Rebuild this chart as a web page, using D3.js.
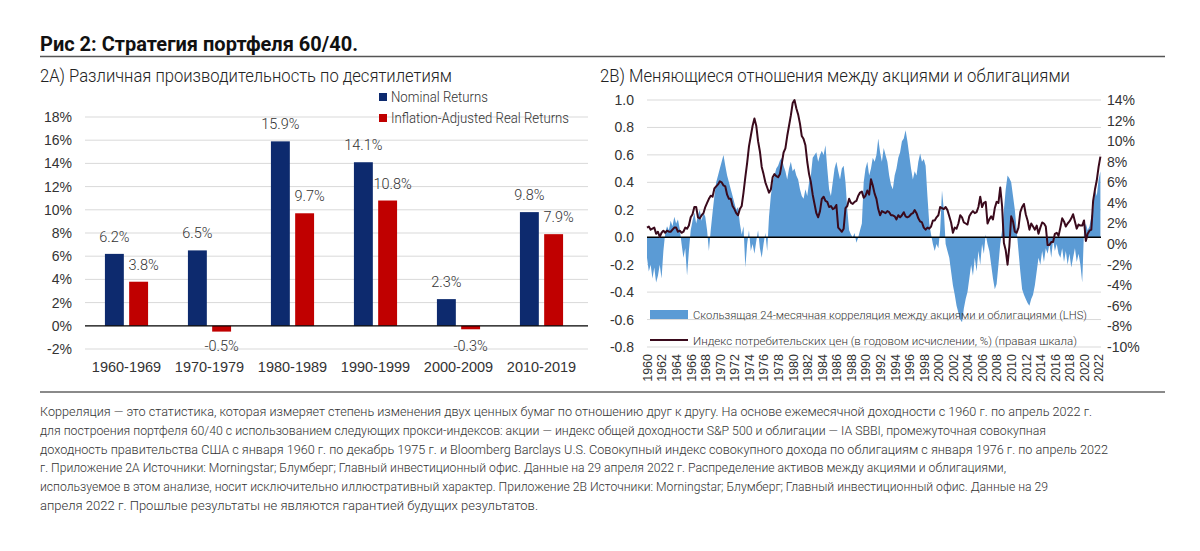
<!doctype html>
<html lang="ru">
<head>
<meta charset="UTF-8">
<title>Рис 2: Стратегия портфеля 60/40</title>
<style>
    body { margin: 0; background: #fff; }
    svg { display: block; font-family: Roboto, "Open Sans", sans-serif; }
    .tick text { fill: #333; }
</style>
</head>
<body>
<svg id="chart" width="1200" height="551"></svg>
<script src="https://d3js.org/d3.v7.min.js"></script>
<script>
// ---- 2A: доходность по десятилетиям ----
const decades = ["1960-1969", "1970-1979", "1980-1989", "1990-1999", "2000-2009", "2010-2019"];
const nominalReturns = [6.2, 6.5, 15.9, 14.1, 2.3, 9.8];
const realReturns = [3.8, -0.5, 9.7, 10.8, -0.3, 7.9];
const barTicks = [-2, 0, 2, 4, 6, 8, 10, 12, 14, 16, 18];
const barSeries = ["Nominal Returns", "Inflation-Adjusted Real Returns"];

// ---- 2B: корреляция и инфляция, поквартально с 1960 по 2022 ----
const seriesStart = 1960;
const correlation = [
    -0.15, -0.25, -0.2, -0.3,   -0.22, -0.33, -0.28, -0.2,   -0.3, -0.1, 0.03, 0.08,
    0.05, 0.12, 0.08, 0.15,     0.1, 0.13, 0.06, -0.05,      -0.15, -0.08, -0.28, -0.1,
    0.05, 0.12, 0.18, 0.1,      0.16, 0.2, 0.12, 0.18,       0.15, 0.05, -0.1, 0.05,
    0.18, 0.3, 0.4, 0.45,       0.5, 0.55, 0.6, 0.52,        0.45, 0.4, 0.35, 0.3,
    0.25, 0.2, 0.22, 0.1,       0.02, 0.08, -0.22, -0.05,    0.05, -0.1, -0.05, -0.12,
    -0.03, 0.05, -0.08, -0.15,  -0.05, 0.03, -0.1, 0.15,     0.3, 0.4, 0.45, 0.5,
    0.52, 0.56, 0.58, 0.52,     0.48, 0.42, 0.5, 0.55,       0.48, 0.5, 0.45, 0.42,
    0.35, 0.3, 0.28, 0.35,      0.3, 0.4, 0.45, 0.58,        0.6, 0.62, 0.55, 0.6,
    0.63, 0.6, 0.67, 0.5,       0.35, 0.3, 0.4, 0.5,         0.55, 0.48, 0.42, 0.5,
    0.52, 0.4, 0.2, 0.05,       0.02, 0.0, 0.03, -0.04,      0.0, 0.05, 0.1, 0.4,
    0.5, 0.55, 0.45, 0.5,       0.58, 0.55, 0.6, 0.72,       0.62, 0.55, 0.65, 0.6,
    0.55, 0.45, 0.38, 0.35,     0.45, 0.5, 0.58, 0.62,       0.7, 0.72, 0.78, 0.7,
    0.6, 0.5, 0.42, 0.48,       0.45, 0.55, 0.61, 0.55,      0.57, 0.52, 0.3, 0.1,
    0.02, -0.05, -0.1, -0.05,   -0.08, 0.05, 0.34, 0.2,      -0.05, -0.1, -0.15, -0.25,
    -0.35, -0.42, -0.5, -0.55,  -0.6, -0.62, -0.52, -0.45,   -0.4, -0.3, -0.2, -0.28,
    -0.15, -0.25, -0.1, -0.2,   -0.05, -0.12, 0.02, -0.05,   -0.1, -0.2, -0.3, -0.38,
    -0.34, -0.2, -0.05, 0.05,   0.2, 0.35, 0.45, 0.43,       0.4, 0.3, 0.2, 0.05,
    -0.1, -0.25, -0.38, -0.42,  -0.45, -0.48, -0.5, -0.45,   -0.42, -0.35, -0.25, -0.15,
    -0.2, -0.1, -0.18, -0.08,   -0.12, -0.05, -0.15, -0.02,  -0.1, -0.05, -0.12, -0.15,
    -0.08, -0.18, -0.1, -0.2,   -0.12, -0.22, -0.15, -0.08,  -0.18, -0.12, -0.2, -0.33,
    0.05, 0.1, 0.05, 0.08,      0.15, 0.2, 0.35, 0.3,        0.42, 0.48
];
const cpi = [
    1.6, 1.7, 1.4, 1.5,    1.6, 1.0, 1.2, 0.7,    1.1, 1.3, 1.1, 1.3,    1.2, 1.2, 1.4, 1.6,
    1.6, 1.2, 1.3, 1.1,    1.2, 1.6, 1.5, 1.8,    2.6, 2.9, 3.6, 3.6,    2.6, 2.5, 2.8, 3.0,
    3.6, 4.0, 4.4, 4.7,    4.6, 5.4, 5.6, 5.8,    6.1, 6.0, 5.7, 5.6,    4.8, 4.4, 4.4, 3.7,
    3.4, 3.0, 2.8, 3.4,    3.7, 5.0, 6.5, 7.9,    9.5, 10.5, 11.5, 12.2, 11.5, 10.0, 9.0, 7.5,
    6.8, 6.0, 5.5, 5.0,    5.3, 6.5, 6.8, 6.6,    6.5, 6.8, 7.8, 8.9,    9.3, 10.5, 11.5, 12.5,
    13.7, 14.0, 13.2, 12.6, 11.7, 10.5, 10.2, 9.6, 8.0, 6.8, 6.0, 4.8,   3.9, 3.0, 2.6, 3.2,
    4.4, 4.6, 4.2, 4.1,    3.6, 3.7, 3.4, 3.5,    3.8, 1.6, 1.4, 1.2,    1.5, 3.5, 3.7, 4.4,
    4.0, 3.9, 4.1, 4.2,    4.7, 5.0, 5.1, 4.5,    4.7, 5.2, 4.8, 6.3,    5.7, 4.9, 4.4, 3.4,
    2.8, 3.2, 3.1, 3.0,    3.2, 3.1, 2.8, 2.8,    2.7, 2.4, 2.8, 2.6,    2.8, 3.1, 2.7, 2.6,
    2.7, 2.9, 3.0, 3.3,    3.0, 2.5, 2.2, 2.1,    1.6, 1.4, 1.6, 1.5,    1.7, 2.3, 2.3, 2.6,
    2.8, 3.6, 3.5, 3.4,    3.6, 3.3, 2.7, 2.1,    1.1, 1.6, 1.5, 2.0,    2.8, 2.6, 2.1, 2.0,
    1.9, 2.7, 3.0, 3.2,    3.0, 3.1, 3.6, 4.6,    3.6, 4.0, 4.1, 2.0,    2.4, 2.7, 2.4, 3.5,
    4.1, 4.0, 5.5, 3.7,    0.1, -0.6, -2.0, -0.2, 2.7, 2.2, 1.2, 1.1,    1.6, 3.1, 3.6, 3.9,
    2.9, 2.3, 1.4, 2.0,    1.7, 1.4, 1.8, 1.0,    1.6, 2.1, 2.0, 1.7,    -0.1, -0.1, 0.2, 0.2,
    1.0, 1.1, 0.8, 1.6,    2.5, 2.2, 1.7, 2.0,    2.2, 2.5, 2.9, 2.2,    1.5, 1.9, 1.8, 1.8,
    2.3, 0.3, 1.0, 1.3,    1.4, 4.2, 5.3, 6.2,    7.5, 8.5
];
const corrTicks = [-0.8, -0.6, -0.4, -0.2, 0, 0.2, 0.4, 0.6, 0.8, 1.0];
const cpiTicks = [-10, -8, -6, -4, -2, 0, 2, 4, 6, 8, 10, 12, 14];
const yearTicks = d3.range(1960, 2023, 2);

const footnote = [
    "Корреляция — это статистика, которая измеряет степень изменения двух ценных бумаг по отношению друг к другу. На основе ежемесячной доходности с 1960 г. по апрель 2022 г.",
    "для построения портфеля 60/40 с использованием следующих прокси-индексов: акции — индекс общей доходности S&P 500 и облигации — IA SBBI, промежуточная совокупная",
    "доходность правительства США с января 1960 г. по декабрь 1975 г. и Bloomberg Barclays U.S. Совокупный индекс совокупного дохода по облигациям с января 1976 г. по апрель 2022",
    "г. Приложение 2А Источники: Morningstar; Блумберг; Главный инвестиционный офис. Данные на 29 апреля 2022 г. Распределение активов между акциями и облигациями,",
    "используемое в этом анализе, носит исключительно иллюстративный характер. Приложение 2В Источники: Morningstar; Блумберг; Главный инвестиционный офис. Данные на 29",
    "апреля 2022 г. Прошлые результаты не являются гарантией будущих результатов."
];
const footnoteWidths = [1052, 1006, 1068, 966, 1008, 498];

const NAVY = "#0d2a6e", RED = "#c00000", BLUE = "#5b9bd5", WINE = "#3a0a1c", GRID = "#d9d9d9";

const svg = d3.select("#chart");
svg.append("rect").attr("width", 1200).attr("height", 551).attr("fill", "#fff");

// заголовок
svg.append("text").attr("x", 40).attr("y", 51)
    .attr("font-size", 21).attr("font-weight", 700).attr("fill", "#111")
    .attr("textLength", 318).attr("lengthAdjust", "spacingAndGlyphs")
    .text("Рис 2: Стратегия портфеля 60/40.");
svg.append("line").attr("x1", 40).attr("x2", 1165).attr("y1", 56.5).attr("y2", 56.5)
    .attr("stroke", "#555").attr("stroke-width", 1.5);

svg.append("text").attr("x", 40).attr("y", 82).attr("font-size", 17.5).attr("font-weight", 300)
    .attr("fill", "#222").attr("textLength", 412).attr("lengthAdjust", "spacingAndGlyphs")
    .text("2A) Различная производительность по десятилетиям");
svg.append("text").attr("x", 600).attr("y", 82).attr("font-size", 17.5).attr("font-weight", 300)
    .attr("fill", "#222").attr("textLength", 470).attr("lengthAdjust", "spacingAndGlyphs")
    .text("2B) Меняющиеся отношения между акциями и облигациями");

// ===== левая диаграмма =====
const yBar = d3.scaleLinear().domain([-2, 18]).range([349, 117]);
const x0 = d3.scaleBand().domain(decades).range([85, 583]).paddingInner(0.48).paddingOuter(0.24);
const x1 = d3.scaleBand().domain(barSeries).range([0, x0.bandwidth()]).paddingInner(0.22);

const left = svg.append("g");
left.append("g").selectAll("line").data(barTicks.filter(d => d !== 0)).join("line")
    .attr("x1", 85).attr("x2", 588)
    .attr("y1", d => yBar(d)).attr("y2", d => yBar(d))
    .attr("stroke", GRID).attr("stroke-width", 1);

const yAxisA = left.append("g").attr("transform", "translate(85,0)")
    .call(d3.axisLeft(yBar).tickValues(barTicks).tickFormat(d => d + "%").tickSize(0).tickPadding(13));
yAxisA.select(".domain").remove();
yAxisA.selectAll("text").attr("font-size", 14).attr("font-weight", 300);

const xAxisA = left.append("g").attr("transform", "translate(0,359)")
    .call(d3.axisBottom(x0).tickSize(0).tickPadding(3));
xAxisA.select(".domain").remove();
xAxisA.selectAll("text").attr("font-size", 14.5).attr("font-weight", 300);

const rows = decades.map((d, i) => ({ decade: d, values: [
    { key: barSeries[0], v: nominalReturns[i], color: NAVY, shift: 0 },
    { key: barSeries[1], v: realReturns[i], color: RED, shift: 5 }
]}));

const groups = left.append("g").selectAll("g").data(rows).join("g")
    .attr("transform", d => `translate(${x0(d.decade)},0)`);
groups.selectAll("rect").data(d => d.values).join("rect")
    .attr("x", d => x1(d.key))
    .attr("width", x1.bandwidth())
    .attr("y", d => yBar(Math.max(d.v, 0)))
    .attr("height", d => Math.abs(yBar(d.v) - yBar(0)))
    .attr("fill", d => d.color);
groups.selectAll("text").data(d => d.values).join("text")
    .attr("x", d => x1(d.key) + x1.bandwidth() / 2 + (d.v > 0 ? d.shift : 0))
    .attr("y", d => d.v >= 0 ? yBar(d.v) - 12 : yBar(0) + 25)
    .attr("text-anchor", "middle").attr("font-size", 14.5).attr("font-weight", 300).attr("fill", "#333")
    .text(d => d.v.toFixed(1) + "%");

left.append("line").attr("x1", 85).attr("x2", 588).attr("y1", yBar(0)).attr("y2", yBar(0))
    .attr("stroke", "#000").attr("stroke-width", 1.3);

// легенда
const legWidths = [97, 178];
const legA = left.append("g");
barSeries.forEach((s, i) => {
    legA.append("rect").attr("x", 379).attr("y", 93 + i * 21).attr("width", 8).attr("height", 8)
        .attr("fill", i === 0 ? NAVY : RED);
    legA.append("text").attr("x", 391).attr("y", 102 + i * 21).attr("font-size", 14).attr("font-weight", 300)
        .attr("fill", "#333").attr("textLength", legWidths[i]).attr("lengthAdjust", "spacingAndGlyphs")
        .text(s);
});

// ===== правая диаграмма =====
const corrData = correlation.map((v, i) => ({ t: seriesStart + i / 4, v }));
const cpiData = cpi.map((v, i) => ({ t: seriesStart + i / 4, v }));

const xT = d3.scaleLinear().domain([1960, 2022.33]).range([647, 1101]);
const yL = d3.scaleLinear().domain([-0.8, 1.0]).range([347, 100]);
const yR = d3.scaleLinear().domain([-10, 14]).range([347, 100]);

const right = svg.append("g");
right.append("g").selectAll("line").data(corrTicks.filter(d => d !== 0)).join("line")
    .attr("x1", 647).attr("x2", 1101)
    .attr("y1", d => yL(d)).attr("y2", d => yL(d))
    .attr("stroke", GRID).attr("stroke-width", 1);

right.append("path").datum(corrData)
    .attr("fill", BLUE)
    .attr("d", d3.area().x(d => xT(d.t)).y0(yL(0)).y1(d => yL(d.v)));

right.append("line").attr("x1", 647).attr("x2", 1101).attr("y1", yL(0)).attr("y2", yL(0))
    .attr("stroke", "#000").attr("stroke-width", 1.5);

right.append("path").datum(cpiData)
    .attr("fill", "none").attr("stroke", WINE).attr("stroke-width", 2).attr("stroke-linejoin", "round")
    .attr("d", d3.line().x(d => xT(d.t)).y(d => yR(d.v)));

const yAxisL = right.append("g").attr("transform", "translate(647,0)")
    .call(d3.axisLeft(yL).tickValues(corrTicks).tickFormat(d => d.toFixed(1)).tickSize(0).tickPadding(13));
yAxisL.select(".domain").remove();
yAxisL.selectAll("text").attr("font-size", 14).attr("font-weight", 300);

const yAxisR = right.append("g").attr("transform", "translate(1101,0)")
    .call(d3.axisRight(yR).tickValues(cpiTicks).tickFormat(d => d + "%").tickSize(0).tickPadding(6));
yAxisR.select(".domain").remove();
yAxisR.selectAll("text").attr("font-size", 14).attr("font-weight", 300);

const xAxisB = right.append("g").attr("transform", "translate(0,350)")
    .call(d3.axisBottom(xT).tickValues(yearTicks).tickFormat(d => d).tickSize(0));
xAxisB.select(".domain").remove();
xAxisB.selectAll("text")
    .attr("transform", "rotate(-90)").attr("text-anchor", "end")
    .attr("x", -4).attr("y", 0).attr("dy", "0.35em")
    .attr("font-size", 12.5).attr("font-weight", 300);

// легенда
const legB = right.append("g");
legB.append("rect").attr("x", 650).attr("y", 310).attr("width", 38).attr("height", 9).attr("fill", BLUE);
legB.append("text").attr("x", 693).attr("y", 318.5).attr("font-size", 11.8).attr("font-weight", 300)
    .attr("fill", "#333").attr("textLength", 394).attr("lengthAdjust", "spacingAndGlyphs")
    .text("Скользящая 24-месячная корреляция между акциями и облигациями (LHS)");
legB.append("line").attr("x1", 650).attr("x2", 688).attr("y1", 340).attr("y2", 340)
    .attr("stroke", WINE).attr("stroke-width", 2);
legB.append("text").attr("x", 693).attr("y", 344.5).attr("font-size", 11.8).attr("font-weight", 300)
    .attr("fill", "#333").attr("textLength", 384).attr("lengthAdjust", "spacingAndGlyphs")
    .text("Индекс потребительских цен (в годовом исчислении, %) (правая шкала)");

// ===== примечание =====
svg.append("line").attr("x1", 40).attr("x2", 1165).attr("y1", 392).attr("y2", 392)
    .attr("stroke", "#8a8a8a").attr("stroke-width", 2);
svg.append("g").selectAll("text").data(footnote).join("text")
    .attr("x", 40).attr("y", (d, i) => 416 + i * 18.8)
    .attr("font-size", 13.5).attr("font-weight", 300).attr("fill", "#333")
    .attr("textLength", (d, i) => footnoteWidths[i]).attr("lengthAdjust", "spacingAndGlyphs")
    .text(d => d);
</script>
</body>
</html>
